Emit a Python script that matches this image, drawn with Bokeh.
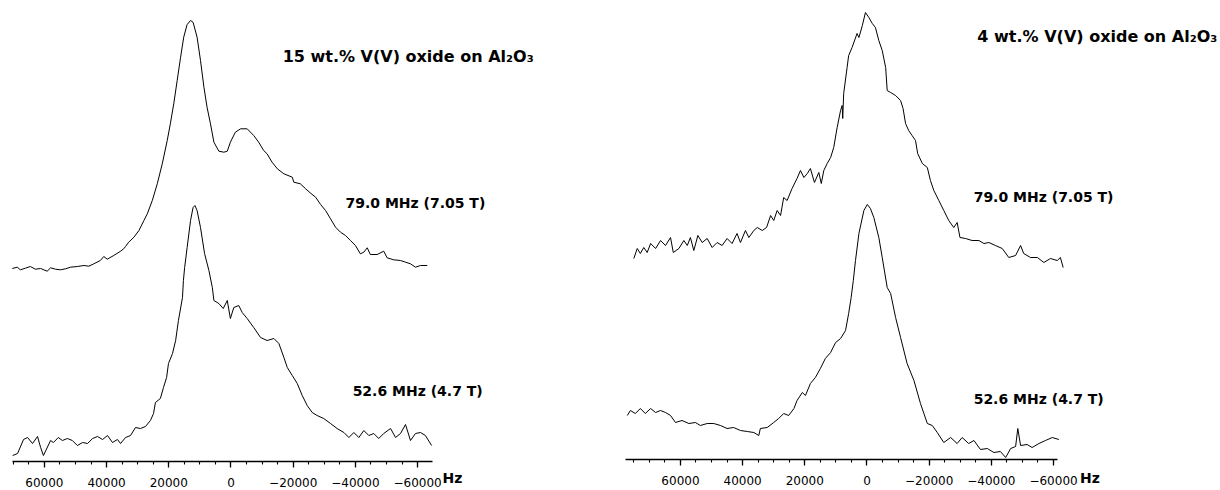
from bokeh.plotting import figure
from bokeh.models import Range1d, SingleIntervalTicker, Label
from bokeh.layouts import row
from bokeh.embed import file_html
from bokeh.resources import INLINE

# ---- data: frequency (Hz) and intensity (a.u.) ----
L79_hz = [70300, 68700, 67700, 66100, 64500, 62900, 61200, 59100, 58000, 56400,
          54800, 53200, 51600, 49400, 47300, 45700, 44100, 42000, 40900, 39800,
          37700, 35500, 34500, 33900, 32900, 31200, 29600, 28000, 26900, 25300,
          23700, 22100, 20500, 19500, 18400, 17300, 16200, 15200, 14100, 13000,
          12200, 10900, 9800, 8700, 7700, 6600, 5500, 3900, 2300, 1200,
          200, -1400, -3100, -5200, -7300, -8900, -10500, -11600, -13200, -14900,
          -17000, -19700, -20200, -22300, -24000, -25600, -27200, -28800, -30400, -32000,
          -33600, -35200, -36800, -38400, -40000, -41600, -42700, -43800, -44800, -47000,
          -49100, -50200, -52300, -54500, -56100, -57700, -59300, -60900, -63100]
L79_int = [0, 1.3, -1.3, 0.3, 2, -0.7, 0, -2.7, 0.7, -0.7,
           -1.3, -0.3, 1.3, 2, 3, 2.3, 4.7, 8, 12, 9.3,
           13, 17.3, 19.7, 22, 26.3, 31.3, 38, 48, 54.7, 68,
           84.7, 104.7, 128, 144.7, 164.7, 188, 211.3, 231.3, 244, 248,
           246.3, 231.3, 208, 181.3, 161.3, 144.7, 126.3, 117.3, 116.3, 117.3,
           126.3, 136.3, 139.7, 139.7, 133, 126.3, 118, 114.7, 106.3, 99.7,
           94.7, 91.3, 86.3, 84.7, 79.7, 75.3, 71.3, 64, 58, 49.7,
           41.3, 36.3, 33, 28, 23, 14.7, 16.3, 20.7, 14, 14,
           17.3, 10.7, 8.7, 8, 6.3, 4.7, 1.3, 3, 3]

L52_hz = [70200, 68600, 66700, 65400, 63800, 62200, 61200, 60300, 58000, 57100,
          55500, 54200, 52600, 51000, 49400, 47700, 46100, 44500, 42900, 41300,
          39700, 38100, 36500, 35500, 33900, 32300, 30700, 29100, 27500, 25900,
          24900, 24300, 22700, 21700, 20700, 20100, 18800, 17800, 16900, 15600,
          15300, 14900, 14100, 13000, 12200, 11600, 10900, 9800, 8500, 7100,
          6000, 5500, 3900, 2500, 1200, 200, -900, -2500, -3600, -5200,
          -7300, -9500, -11600, -13800, -15400, -17000, -18100, -19700, -21300, -22900,
          -24500, -26100, -27700, -29800, -32000, -34100, -36300, -37900, -39500, -41100,
          -42700, -44300, -45900, -47500, -49100, -51300, -52900, -54500, -56100, -57700,
          -59300, -60900, -62500, -64500]
L52_int = [-10, -8, 6, 8, 2, 9, -2, -10, 5, 3,
           8, 5, 7, 5, 0, 3, 2, 7, 9, 6,
           10, 3, 6, 2, 8, 10, 18, 17, 19, 25,
           32, 43, 47, 58, 68, 82, 92, 105, 125, 148,
           165, 178, 198, 225, 238, 240, 235, 218, 192, 175,
           158, 145, 142, 137, 145, 127, 138, 140, 133, 127,
           118, 108, 105, 107, 102, 88, 78, 70, 62, 50,
           40, 33, 30, 27, 22, 17, 13, 8, 13, 8,
           15, 10, 12, 7, 12, 17, 8, 12, 21, 5,
           12, 13, 10, 0]

R79_hz = [75000, 73900, 72900, 71800, 70700, 69600, 68000, 66400, 64800, 63200,
          62300, 60500, 58900, 57800, 56800, 55700, 54400, 53000, 51400, 49800,
          48200, 46600, 45000, 43400, 41800, 40700, 39100, 38000, 36400, 35300,
          33700, 32300, 31000, 30000, 28900, 27800, 26800, 25700, 24100, 22500,
          21400, 20300, 19200, 18200, 16900, 15500, 14700, 13900, 12800, 11700,
          10700, 9600, 8500, 8000, 7800, 7500, 6400, 5900, 4800, 3200,
          2600, 1500, 500, -600, -1700, -2700, -3800, -4900, -6000, -6500,
          -7600, -9200, -10800, -11600, -12400, -13400, -14500, -15600, -16300, -17800,
          -19400, -20400, -21500, -23100, -24700, -26300, -27900, -29000, -29900, -31700,
          -33800, -36000, -37600, -39200, -41300, -43500, -45600, -47800, -49400, -50400,
          -52600, -54800, -56900, -59000, -61200, -62200, -63100]
R79_int = [4, 14, 9, 15, 10, 19, 14, 22, 17, 25,
           10, 14, 22, 17, 25, 12, 27, 20, 24, 15,
           20, 17, 24, 19, 29, 20, 32, 25, 32, 35,
           32, 35, 47, 42, 52, 47, 65, 62, 74, 84,
           92, 85, 89, 94, 80, 90, 79, 92, 99, 105,
           115, 135, 152, 157, 144, 169, 195, 207, 215, 229,
           225, 237, 250, 245, 239, 235, 222, 212, 195, 172,
           170, 167, 162, 154, 139, 132, 127, 122, 109, 99,
           95, 82, 72, 62, 52, 42, 35, 40, 25, 24,
           22, 22, 19, 20, 17, 14, 5, 7, 17, 9,
           5, 5, 0, 4, 2, 5, -5]

R52_hz = [77100, 76100, 74500, 72900, 71300, 69600, 68000, 66400, 64800, 63200,
          61600, 59500, 57300, 55200, 53600, 51400, 49300, 47100, 45000, 42900,
          40700, 38500, 36400, 34800, 34300, 32100, 30000, 28400, 26800, 25200,
          23500, 22500, 20800, 19800, 18200, 16600, 15000, 13400, 11700, 10100,
          8500, 6900, 5900, 5100, 4400, 3700, 2600, 1000, -100, -1100, -2200, -3800,
          -4900, -6500, -7600, -9200, -10800, -12900, -15100, -17200, -19400, -21000,
          -22600, -24700, -26900, -29000, -30600, -32700, -34400, -36500, -38700, -40800,
          -42900, -44600, -46200, -47800, -48500, -49400, -51500, -53100, -55300, -57400,
          -59600, -61700]
R52_int = [30, 35, 32, 37, 32, 37, 33, 35, 33, 30,
           23, 25, 22, 23, 20, 22, 22, 20, 17, 18,
           15, 14, 13, 10, 17, 18, 23, 27, 32, 30,
           37, 45, 53, 50, 62, 68, 77, 87, 93, 103,
           107, 115, 132, 148, 165, 185, 212, 235, 241, 237, 228, 208,
           188, 158, 152, 128, 108, 82, 65, 42, 22, 20,
           13, 3, 8, 2, 8, 2, 5, -4, -3, -7,
           -6, -12, -3, -1, 17, 0, 1, -2, 2, 5,
           8, 6]

TITLE_L = "15 wt.% V(V) oxide on Al₂O₃"
TITLE_R = "4 wt.% V(V) oxide on Al₂O₃"
FIELD_HI = "79.0 MHz (7.05 T)"
FIELD_LO = "52.6 MHz (4.7 T)"
UNIT = "Hz"

FONT = "DejaVu Sans"


def make_panel(xr, bounds, traces, texts, unit_x, axis_y):
    p = figure(frame_width=610, frame_height=490,
               x_range=Range1d(*xr), y_range=Range1d(-29, 461),
               output_backend="svg", toolbar_location=None,
               min_border_left=0, min_border_right=0, min_border_top=0,
               min_border_bottom=0, y_axis_location=None,
               outline_line_color=None, background_fill_color="white",
               border_fill_color="white")
    p.xgrid.visible = False
    p.ygrid.visible = False
    ax = p.xaxis[0]
    ax.fixed_location = axis_y
    ax.ticker = SingleIntervalTicker(interval=20000, num_minor_ticks=4)
    ax.bounds = bounds
    ax.axis_line_width = 1.5
    ax.axis_line_color = "black"
    ax.major_tick_line_color = "black"
    ax.minor_tick_line_color = "black"
    ax.major_tick_line_width = 1.3
    ax.minor_tick_line_width = 1.1
    ax.major_tick_in = 0
    ax.major_tick_out = 6
    ax.minor_tick_in = 0
    ax.minor_tick_out = 3
    ax.major_label_standoff = 10
    ax.major_label_text_font = FONT
    ax.major_label_text_font_size = "12px"
    ax.major_label_text_color = "black"

    for hz, inten, off in traces:
        p.line(hz, [v + off for v in inten], line_color="black", line_width=1.0)

    for txt, x, y, size in texts:
        p.add_layout(Label(x=x, y=y, text=txt, text_font=FONT,
                           text_font_style="bold", text_font_size=size,
                           text_color="black", text_baseline="middle"))
    p.add_layout(Label(x=unit_x, y=-16, text=UNIT, text_font=FONT,
                       text_font_style="bold", text_font_size="14px",
                       text_color="black", text_baseline="middle"))
    return p


left = make_panel((74100, -122000), (-64800, 70300),
                  [(L79_hz, L79_int, 193), (L52_hz, L52_int, 16)],
                  [(TITLE_L, -16600, 405, "16px"),
                   (FIELD_HI, -36800, 259, "14px"),
                   (FIELD_LO, -39100, 71, "14px")],
                  -68000, 0)

right = make_panel((82500, -113700), (-61300, 77700),
                   [(R79_hz, R79_int, 199), (R52_hz, R52_int, 16)],
                   [(TITLE_R, -35500, 425, "16px"),
                    (FIELD_HI, -34300, 265, "14px"),
                    (FIELD_LO, -34300, 63, "14px")],
                   -68500, 2)

layout = row(left, right, spacing=0)
open("out.html", "w").write(file_html(layout, INLINE))
